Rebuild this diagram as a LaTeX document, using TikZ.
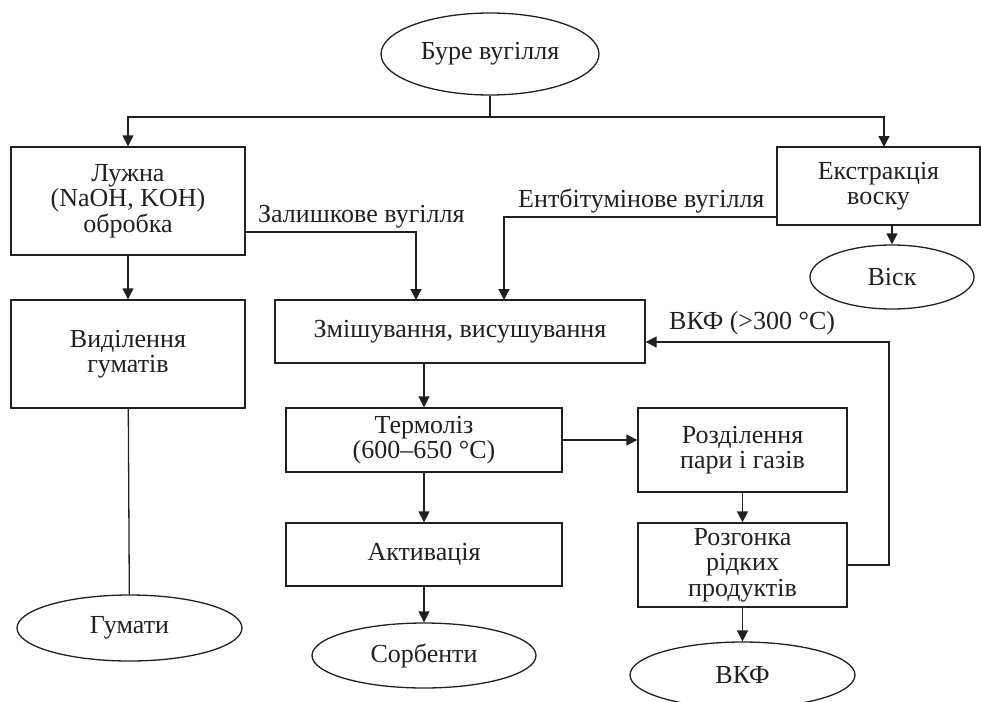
\documentclass[tikz,border=0pt]{standalone}
\usepackage{fontspec}
\setmainfont{Liberation Serif}
\usetikzlibrary{arrows.meta,shapes.geometric}
\tikzset{
  box/.style={draw, line width=1.3pt, rectangle, align=center, inner sep=0pt},
  oval/.style={draw, line width=1.3pt, ellipse, inner sep=0pt},
  conn/.style={line width=1.3pt},
  arr/.style={line width=1.3pt, -{Triangle[length=11pt,width=11pt]}},
  lbl/.style={inner sep=0pt, anchor=base west},
}
\begin{document}
\begin{tikzpicture}[x=1pt,y=-1pt, font=\fontsize{26}{25.5}\selectfont, color={rgb,255:red,35;green,31;blue,32}]
\useasboundingbox (0,0) rectangle (981,701);
% nodes
\node[oval, minimum width=218pt, minimum height=82pt] (top) at (490,54) {Буре вугілля};
\node[box, minimum width=234pt, minimum height=108pt] (lug) at (128,201) {Лужна\\(NaOH, KOH)\\обробка};
\node[box, minimum width=203pt, minimum height=78pt] (ext) at (878.5,186) {Екстракція\\воску};
\node[oval, minimum width=164pt, minimum height=64pt] (visk) at (892,277) {Віск};
\node[box, minimum width=234pt, minimum height=108pt] (vyd) at (128,354) {Виділення\\гуматів};
\node[oval, minimum width=225pt, minimum height=66pt] (gum) at (129.5,628) {Гумати};
\node[box, minimum width=370pt, minimum height=63pt] (mix) at (460,331.5) {Змішування, висушування};
\node[box, minimum width=276pt, minimum height=64pt] (term) at (424,440) {Термоліз\\(600–650 °C)};
\node[box, minimum width=276pt, minimum height=63pt] (akt) at (424,554.5) {Активація};
\node[oval, minimum width=224pt, minimum height=65pt] (sorb) at (424,655.5) {Сорбенти};
\node[box, minimum width=209pt, minimum height=84pt] (rozd) at (742.5,450) {Розділення\\пари і газів};
\node[box, minimum width=209pt, minimum height=84pt] (rozg) at (742.5,565) {Розгонка\\рідких\\продуктів};
\node[oval, minimum width=225pt, minimum height=66pt] (vkf) at (742.5,675) {ВКФ};
% coordinates
\coordinate (j) at (490,117);
\coordinate (extin) at (884,147);
\coordinate (zal) at (245,232);
\coordinate (mixA) at (416,300);
\coordinate (ent) at (777,217);
\coordinate (mixB) at (504,300);
\coordinate (loop) at (889,342);
% connectors
\draw[conn] (top.south) -- (j);
\draw[arr] (j) -| (lug.north);
\draw[arr] (j) -| (extin);
\draw[arr] (lug) -- (vyd);
\draw[conn] (vyd) -- (gum);
\draw[arr] (zal) -| (mixA);
\draw[arr] (ent) -| (mixB);
\draw[arr] (ext.south -| visk.north) -- (visk.north);
\draw[arr] (mix.south -| term.north) -- (term.north);
\draw[arr] (term.east) -- (rozd.west |- term.east);
\draw[arr] (term) -- (akt);
\draw[arr] (akt) -- (sorb);
\draw[arr] (rozd) -- (rozg);
\draw[arr] (rozg) -- (vkf);
\draw[arr] (rozg.east) -| (loop) -- (mix.east |- loop);
% labels
\node[lbl] (lzal) at (258,222) {Залишкове вугілля};
\node[lbl] (lent) at (518,207) {Ентбітумінове вугілля};
\node[lbl] (lvkf) at (669,329) {ВКФ (>300 °C)};
\end{tikzpicture}
\end{document}
